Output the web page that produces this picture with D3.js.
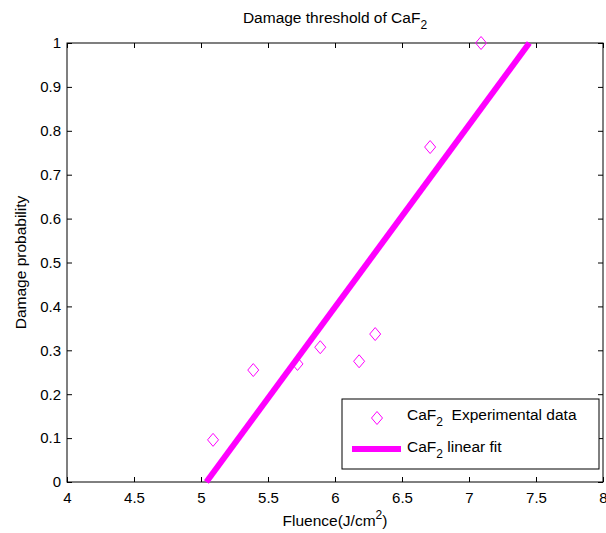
<!DOCTYPE html>
<html lang="en">
<head>
<meta charset="UTF-8">
<title>Damage threshold of CaF2</title>
<script src="https://d3js.org/d3.v7.min.js"></script>
<style>
  body { margin: 0; background: #fff; }
  svg { display: block; }
  text { font-family: "Liberation Sans", Arial, sans-serif; font-size: 15.5px; fill: #000; }
</style>
</head>
<body>
<svg id="chart" width="606" height="533"></svg>
<script>
// measured points (fluence, probability)
const fluence = [5.09, 5.39, 5.72, 5.89, 6.18, 6.30, 6.71, 7.09];
const probability = [0.096, 0.255, 0.269, 0.307, 0.275, 0.337, 0.763, 1.0];
// linear fit, end points
const fitX = [5.04, 7.45];
const fitY = [0, 1];
const xTicks = [4, 4.5, 5, 5.5, 6, 6.5, 7, 7.5, 8];
const yTicks = [0, 0.1, 0.2, 0.3, 0.4, 0.5, 0.6, 0.7, 0.8, 0.9, 1];

const magenta = "#ff00ff";
const mLeft = 67, mRight = 603, mTop = 43, mBottom = 482;

const svg = d3.select("#chart");
const x = d3.scaleLinear().domain([4, 8]).range([mLeft, mRight]);
const y = d3.scaleLinear().domain([0, 1]).range([mBottom, mTop]);

// axes, ticks inward on all sides
const fmt = d => String(d);
svg.append("g").attr("transform", `translate(0,${mBottom})`)
  .call(d3.axisBottom(x).tickValues(xTicks).tickFormat(fmt).tickSizeInner(-5).tickSizeOuter(0).tickPadding(10));
svg.append("g").attr("transform", `translate(${mLeft},0)`)
  .call(d3.axisLeft(y).tickValues(yTicks).tickFormat(fmt).tickSizeInner(-5).tickSizeOuter(0).tickPadding(6));
svg.append("g").attr("transform", `translate(0,${mTop})`)
  .call(d3.axisTop(x).tickValues(xTicks).tickFormat("").tickSizeInner(-5).tickSizeOuter(0));
svg.append("g").attr("transform", `translate(${mRight},0)`)
  .call(d3.axisRight(y).tickValues(yTicks).tickFormat("").tickSizeInner(-5).tickSizeOuter(0));
svg.selectAll(".domain").remove();
svg.selectAll(".tick line").attr("stroke", "#000");
svg.selectAll(".tick text").style("font-size", "15px").style("font-family", "Liberation Sans, Arial, sans-serif");

svg.append("rect")
  .attr("x", mLeft).attr("y", mTop).attr("width", mRight - mLeft).attr("height", mBottom - mTop)
  .attr("fill", "none").attr("stroke", "#000").attr("stroke-width", 1);

// fit line
svg.append("path")
  .datum(fitX.map((d, i) => [d, fitY[i]]))
  .attr("d", d3.line().x(d => x(d[0])).y(d => y(d[1])))
  .attr("stroke", magenta).attr("stroke-width", 6).attr("fill", "none");

// diamonds
const diamond = "M0,-6.5L5.5,0L0,6.5L-5.5,0Z";
svg.append("g").selectAll("path")
  .data(fluence.map((d, i) => [d, probability[i]]))
  .join("path")
  .attr("d", diamond)
  .attr("transform", d => `translate(${x(d[0])},${y(d[1])})`)
  .attr("fill", "none").attr("stroke", magenta).attr("stroke-width", 1);

// title and labels
const title = svg.append("text").attr("x", 335).attr("y", 23).attr("text-anchor", "middle");
title.append("tspan").text("Damage threshold of CaF");
title.append("tspan").attr("dy", 6).style("font-size", "12px").text("2");

const xl = svg.append("text").attr("x", 335).attr("y", 526).attr("text-anchor", "middle");
xl.append("tspan").text("Fluence(J/cm");
xl.append("tspan").attr("dy", -7).style("font-size", "12px").text("2");
xl.append("tspan").attr("dy", 7).text(")");

svg.append("text")
  .attr("transform", `translate(26,${(mTop + mBottom) / 2}) rotate(-90)`)
  .attr("text-anchor", "middle")
  .text("Damage probability");

// legend
const lg = svg.append("g");
lg.append("rect").attr("x", 342).attr("y", 399).attr("width", 257).attr("height", 70)
  .attr("fill", "#fff").attr("stroke", "#000");
lg.append("path").attr("d", diamond).attr("transform", "translate(377,418)")
  .attr("fill", "none").attr("stroke", magenta);
lg.append("line").attr("x1", 352).attr("x2", 401).attr("y1", 449).attr("y2", 449)
  .attr("stroke", magenta).attr("stroke-width", 6);
const t1 = lg.append("text").attr("x", 407).attr("y", 420);
t1.append("tspan").text("CaF");
t1.append("tspan").attr("dy", 6).style("font-size", "12px").text("2");
t1.append("tspan").attr("dy", -6).text("\u00a0 Experimental data");
const t2 = lg.append("text").attr("x", 407).attr("y", 452);
t2.append("tspan").text("CaF");
t2.append("tspan").attr("dy", 6).style("font-size", "12px").text("2");
t2.append("tspan").attr("dy", -6).text(" linear fit");
</script>
</body>
</html>
